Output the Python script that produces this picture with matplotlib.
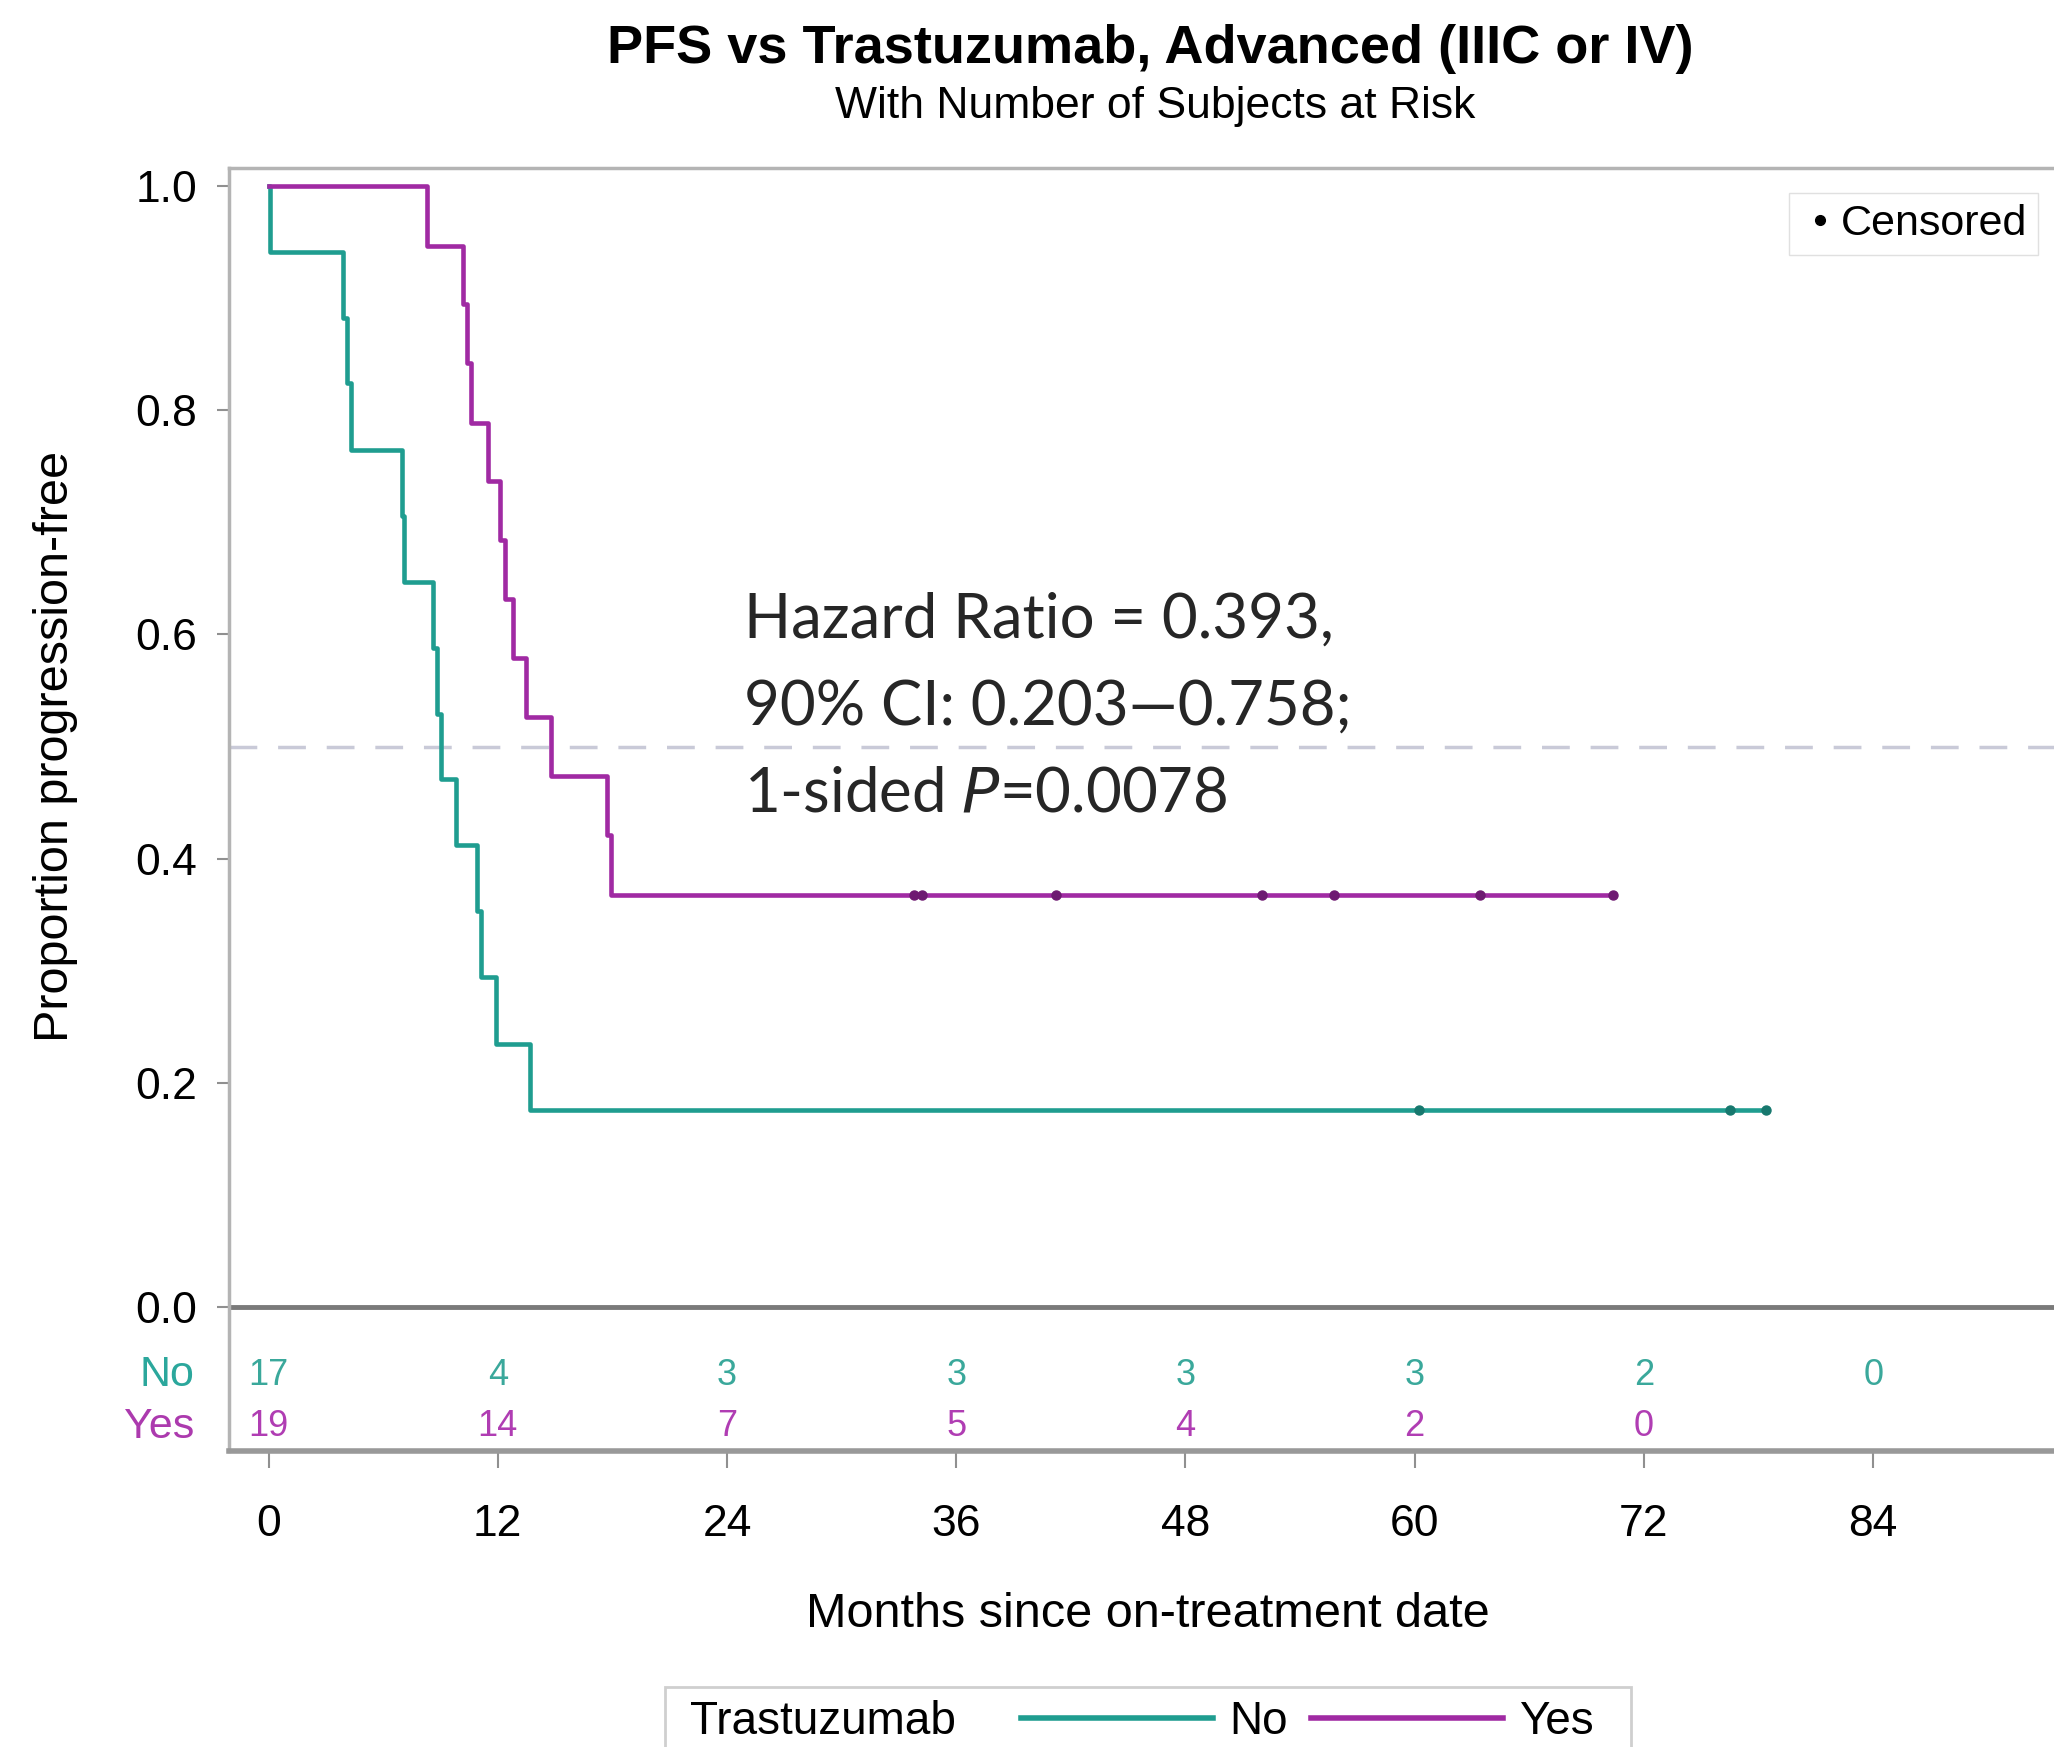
import numpy as np
import matplotlib.pyplot as plt
from matplotlib.lines import Line2D
from matplotlib.patches import Rectangle

plt.rcParams['font.family'] = ['Liberation Sans', 'DejaVu Sans']

# ------------------------------------------------------------
# Kaplan-Meier estimates, PFS by trastuzumab (months)
# ------------------------------------------------------------
no_step_months = [0, 0.1, 3.9, 4.1, 4.3, 7.0, 7.1, 8.6, 8.8, 9.0, 9.8, 10.9, 11.1, 11.9, 13.7, 78.4]
no_step_surv = [1.0, 0.941, 0.882, 0.824, 0.765, 0.706, 0.647, 0.588, 0.529, 0.471,
                0.412, 0.353, 0.294, 0.235, 0.176, 0.176]
no_censored = [60.2, 76.5, 78.4]

yes_step_months = [0, 8.3, 10.2, 10.4, 10.6, 11.5, 12.1, 12.4, 12.8, 13.5, 14.8, 17.7, 17.9, 70.4]
yes_step_surv = [1.0, 0.947, 0.895, 0.842, 0.789, 0.737, 0.684, 0.632, 0.579, 0.526,
                 0.474, 0.421, 0.368, 0.368]
yes_censored = [33.8, 34.2, 41.2, 52.0, 55.8, 63.4, 70.4]

risk_months = [0, 12, 24, 36, 48, 60, 72, 84]
no_at_risk = [17, 4, 3, 3, 3, 3, 2, 0]
yes_at_risk = [19, 14, 7, 5, 4, 2, 0, None]

x_ticks = [0, 12, 24, 36, 48, 60, 72, 84]
y_ticks = [0.0, 0.2, 0.4, 0.6, 0.8, 1.0]

teal = '#1f9d90'
purple = '#a02aa3'
teal_dark = '#17786e'
purple_dark = '#6e1a72'


def surv_at(t, months, surv):
    idx = np.searchsorted(months, t, side='right') - 1
    return np.asarray(surv)[idx]


fig = plt.figure(figsize=(20.54, 17.47), dpi=100)
ax = fig.add_axes([0.1116, 0.1694, 0.893, 0.7346])
ax.set_xlim(-2.06, 93.96)
ax.set_ylim(-0.1285, 1.0164)

# median reference
ref = ax.axhline(0.5, color='#c9cad8', lw=2.5, zorder=1)
ref.set_dashes((8, 6))

ax.step(no_step_months, no_step_surv, where='post', color=teal, lw=3.3, zorder=3)
ax.step(yes_step_months, yes_step_surv, where='post', color=purple, lw=3.3, zorder=3)
ax.plot(no_censored, surv_at(no_censored, no_step_months, no_step_surv), 'o',
        ms=6.5, color=teal_dark, zorder=4)
ax.plot(yes_censored, surv_at(yes_censored, yes_step_months, yes_step_surv), 'o',
        ms=6.5, color=purple_dark, zorder=4)

# zero line separating the risk table
ax.axhline(0.0, color='#7a7a7a', lw=3.5, zorder=2)

# number at risk
for m, n_no, n_yes in zip(risk_months, no_at_risk, yes_at_risk):
    ax.text(m, -0.061, str(n_no), color='#3aa89b', fontsize=26, ha='center', va='center')
    if n_yes is not None:
        ax.text(m, -0.107, str(n_yes), color='#b03db3', fontsize=26, ha='center', va='center')
ax.text(-3.9, -0.061, 'No', color='#2ba79c', fontsize=31, ha='right', va='center', clip_on=False)
ax.text(-3.9, -0.107, 'Yes', color='#ac3aae', fontsize=31, ha='right', va='center', clip_on=False)

ax.set_xticks(x_ticks)
ax.set_yticks(y_ticks)
ax.set_yticklabels([f'{v:.1f}' for v in y_ticks])
ax.tick_params(axis='x', length=12, width=1.5, color='#909090', pad=26, labelsize=32)
ax.tick_params(axis='y', length=9, width=1.5, color='#909090', pad=14, labelsize=32)
for side in ['left', 'top', 'right']:
    ax.spines[side].set_color('#b4b4b4')
    ax.spines[side].set_linewidth(2.5)
ax.spines['bottom'].set_color('#999999')
ax.spines['bottom'].set_linewidth(4)

ax.text(24.9, 0.638,
        'Hazard Ratio = 0.393,\n90% CI: 0.203\u20140.758;\n1-sided $\\mathit{P}$=0.0078',
        family='Lato', fontsize=44.5, va='top', ha='left', linespacing=1.65,
        color='#262626', zorder=5)

# censored key
leg = ax.legend(handles=[Line2D([], [], marker='o', color='black', ls='none', ms=7)],
                labels=['Censored'], loc='upper right', fontsize=31,
                bbox_to_anchor=(0.998, 0.997), handletextpad=0.05, borderpad=0.25,
                handlelength=0.9, fancybox=False, framealpha=1, edgecolor='#e0e0e0')

fig.text(0.560, 0.972, 'PFS vs Trastuzumab, Advanced (IIIC or IV)', fontsize=39,
         fontweight='bold', ha='center', va='center')
fig.text(0.5625, 0.939, 'With Number of Subjects at Risk', fontsize=32,
         ha='center', va='center')
fig.text(0.0268, 0.573, 'Proportion progression-free', fontsize=35, rotation=90,
         ha='center', va='center')
fig.text(0.559, 0.0757, 'Months since on-treatment date', fontsize=35,
         ha='center', va='center')

# group legend along the bottom
fig.patches.append(Rectangle((0.324, -0.02), 0.470, 0.0545, transform=fig.transFigure,
                             facecolor='white', edgecolor='#cfcfcf', lw=2))
fig.text(0.336, 0.0142, 'Trastuzumab', fontsize=33, ha='left', va='center')
fig.legend(handles=[Line2D([], [], color=teal, lw=4), Line2D([], [], color=purple, lw=4)],
           labels=['No', 'Yes'], ncol=2, loc='center left', bbox_to_anchor=(0.497, 0.0142),
           frameon=False, fontsize=33, handlelength=4.2, handletextpad=0.35,
           columnspacing=0.5, borderpad=0, borderaxespad=0)

fig.savefig('out.png', dpi=100)
